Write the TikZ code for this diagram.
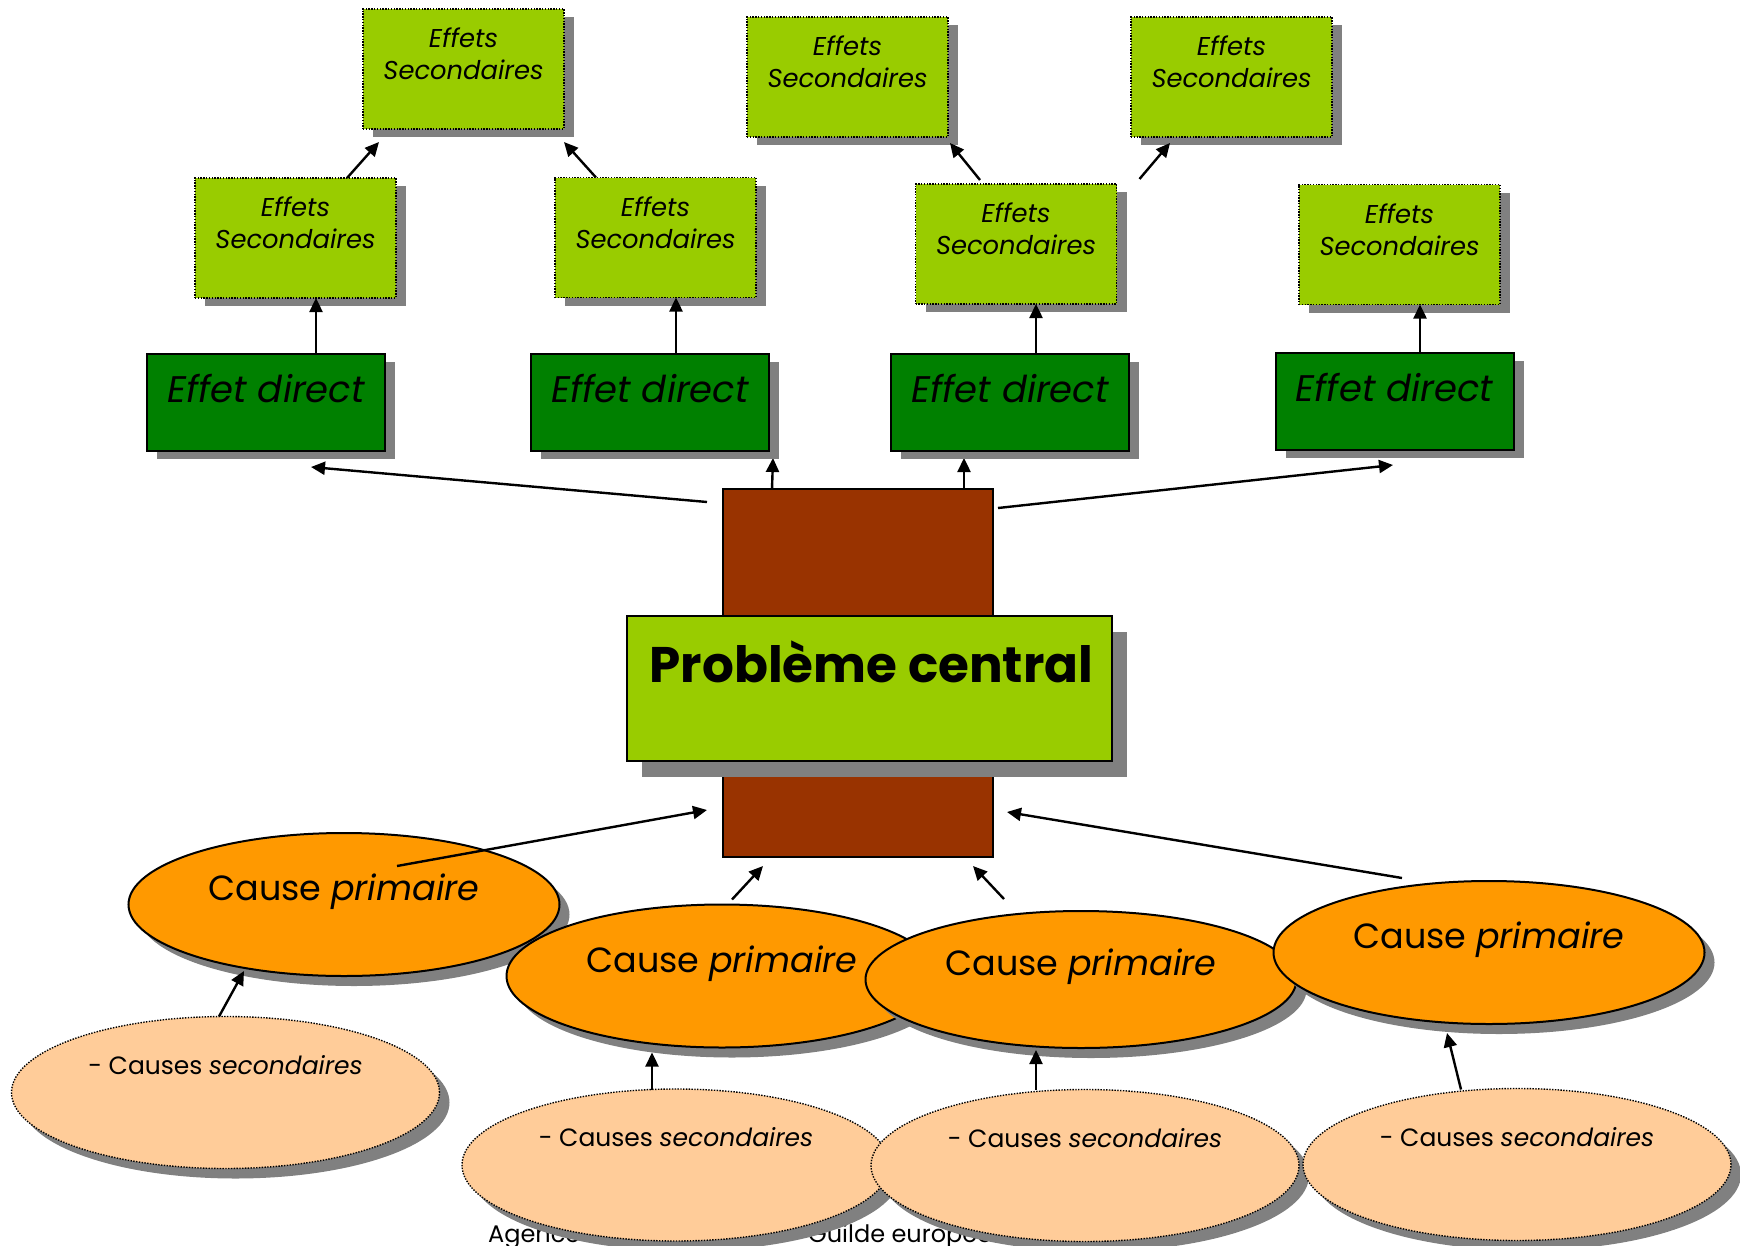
\documentclass[tikz,border=0pt]{standalone}
\usepackage{fontspec}
\setmainfont{Poppins}
\usetikzlibrary{arrows.meta,shadows,calc,shapes.geometric}
\definecolor{leaf}{HTML}{99CC00}
\definecolor{forest}{HTML}{008000}
\definecolor{rust}{HTML}{993300}
\definecolor{amber}{HTML}{FF9900}
\definecolor{peach}{HTML}{FFCC99}
\definecolor{shade}{HTML}{808080}
\pgfdeclarelayer{under}
\pgfsetlayers{under,main}

\tikzset{
  dropA/.style={drop shadow={shadow xshift=10pt,shadow yshift=-8pt,fill=shade,opacity=1}},
  dropB/.style={drop shadow={shadow xshift=15pt,shadow yshift=-16pt,fill=shade,opacity=1}},
  dropC/.style={drop shadow={shadow xshift=10pt,shadow yshift=-10pt,fill=shade,opacity=1}},
  dots/.style={line width=1.4pt,dash pattern=on 1.4pt off 1.4pt},
  esbox/.style={rectangle,fill=leaf,draw=black,dots,minimum width=201pt,minimum height=120pt,inner sep=0pt,outer sep=0pt,dropA},
  edbox/.style={rectangle,fill=forest,draw=black,line width=2pt,minimum width=238pt,minimum height=97pt,inner sep=0pt,outer sep=0pt,dropA},
  corebox/.style={rectangle,fill=rust,draw=black,line width=2pt,minimum width=270pt,minimum height=368pt,inner sep=0pt,outer sep=0pt},
  pbbox/.style={rectangle,fill=leaf,draw=black,line width=2pt,minimum width=485pt,minimum height=145pt,inner sep=0pt,outer sep=0pt,dropB},
  pell/.style={ellipse,fill=amber,draw=black,line width=2pt,minimum width=431pt,minimum height=143pt,inner sep=0pt,outer sep=0pt,dropC},
  sell/.style={ellipse,fill=peach,draw=black,dots,minimum width=428pt,minimum height=152pt,inner sep=0pt,outer sep=0pt,dropC},
  estext/.style={anchor=base,inner sep=0pt,font=\fontsize{25.8}{30}\selectfont\itshape},
  edtext/.style={anchor=base,inner sep=0pt,font=\fontsize{37}{40}\selectfont\itshape},
  pbtext/.style={anchor=base,inner sep=0pt,font=\fontsize{50}{54}\selectfont\bfseries},
  ptext/.style={anchor=base,inner sep=0pt,font=\fontsize{35}{40}\selectfont},
  stext/.style={anchor=base,inner sep=0pt,font=\fontsize{25}{30}\selectfont},
  foot/.style={anchor=base west,inner sep=0pt,font=\fontsize{24}{28}\selectfont},
  arr/.style={line width=2.4pt,-{Triangle[length=14pt,width=13pt]}},
}

% a dotted box holding the two-line label
\newcommand\effbox[2]{%
  \node[esbox] (#1) at (#2) {};
  \node[estext] (#1a) at ([yshift=21.5pt]#1.center) {Effets};
  \node[estext] (#1b) at ([yshift=-10.5pt]#1.center) {Secondaires};}

\begin{document}
\begin{tikzpicture}[x=1pt,y=-1pt]
\useasboundingbox (0,0) rectangle (1740,1245);

% footer line, mostly hidden by the lower ellipses
\node[foot] (fa) at (488,1242) {Agence};
\node[foot] (fb) at (808,1242) {Guilde européenne};

% secondary effects
\effbox{t1}{463.5,69}
\effbox{t2}{847.5,77}
\effbox{t3}{1231.5,77}
\effbox{s1}{295.5,238}
\effbox{s2}{655.5,237.5}
\effbox{s3}{1016,244}
\effbox{s4}{1399.5,244.5}

% direct effects
\node[edbox] (d1) at (266,402.5) {};
\node[edbox] (d2) at (650,402.5) {};
\node[edbox] (d3) at (1010,402.5) {};
\node[edbox] (d4) at (1394.5,401.5) {};
\node[edtext] (d1t) at (d1.center) {Effet direct};
\node[edtext] (d2t) at (d2.center) {Effet direct};
\node[edtext] (d3t) at (d3.center) {Effet direct};
\node[edtext] (d4t) at (d4.center) {Effet direct};

% trunk and central problem
\node[corebox] (core) at (858,673) {};
\node[pbbox] (pb) at (869.5,688.5) {};
\node[pbtext] (pbt) at ([xshift=2pt,yshift=6.5pt]pb.center) {Problème central};

% primary causes
\node[pell] (p1) at (344,904.5) {};
\node[pell] (p2) at (722,976) {};
\node[pell,minimum height=137pt] (p3) at (1081,979.5) {};
\node[pell] (p4) at (1489,952.5) {};
\node[ptext] (p1t) at ([yshift=4pt]p1.center) {Cause \textit{primaire}};
\node[ptext] (p2t) at ([yshift=4pt]p2.center) {Cause \textit{primaire}};
\node[ptext] (p3t) at ([yshift=4pt]p3.center) {Cause \textit{primaire}};
\node[ptext] (p4t) at ([yshift=4pt]p4.center) {Cause \textit{primaire}};

% secondary causes
\node[sell] (c1) at (225.5,1092.5) {};
\node[sell] (c2) at (676,1165) {};
\node[sell] (c3) at (1085,1165.5) {};
\node[sell] (c4) at (1517,1164.5) {};
\node[stext] (c1t) at ([yshift=18.5pt]c1.center) {- Causes \textit{secondaires}};
\node[stext] (c2t) at ([yshift=18.5pt]c2.center) {- Causes \textit{secondaires}};
\node[stext] (c3t) at ([yshift=18.5pt]c3.center) {- Causes \textit{secondaires}};
\node[stext] (c4t) at ([yshift=18.5pt]c4.center) {- Causes \textit{secondaires}};

% direct effects -> secondary effects
\draw[arr] ($(d1.north)+(50,0)$) -- ($(s1.south)+(20.5,0)$);
\draw[arr] ($(d2.north)+(26,0)$) -- ($(s2.south)+(20.5,0)$);
\draw[arr] ($(d3.north)+(26,0)$) -- ($(s3.south)+(20,0)$);
\draw[arr] ($(d4.north)+(25.5,0)$) -- ($(s4.south)+(20.5,0)$);

% secondary effects -> further effects
\draw[arr] ($(s1.north)+(51.5,0)$) -- ($(t1.south west)+(16,13)$);
\draw[arr] ($(s2.north)+(-59.5,0)$) -- ($(t1.south east)+(0,13)$);
\draw[arr] ($(s3.north)+(-36,-4)$) -- ($(t2.south east)+(2,6)$);
\draw[arr] ($(s3.north east)+(23,-5)$) -- ($(t3.south west)+(39,6)$);

% central problem -> direct effects
\draw[arr] ($(core.north west)+(-16,13)$) -- ($(d1.south)+(45,16)$);
\begin{pgfonlayer}{under}
\draw[arr] ($(core.north)+(-86,0)$) -- ($(d2.south east)+(4,7)$);
\draw[arr] ($(core.north)+(106,0)$) -- ($(d3.south west)+(73,7)$);
\end{pgfonlayer}
\draw[arr] ($(core.north east)+(5,19)$) -- ($(d4.south)+(-1.5,15)$);

% primary causes -> central problem
\draw[arr] ($(p1.center)+(53,-38.5)$) -- ($(core.west)+(-16,137)$);
\draw[arr] ($(p2.north)+(10,-5)$) -- ($(core.south west)+(40,9)$);
\draw[arr] ($(p3.north)+(-77,-12)$) -- ($(core.south east)+(-20,9)$);
\draw[arr] ($(p4.north)+(-87,-3)$) -- ($(core.east)+(14,139)$);

% secondary causes -> primary causes
\draw[arr] ($(c1.north)+(-6.5,0)$) -- ($(p1.south)+(-100,-5)$);
\draw[arr] ($(c2.north)+(-24,1)$) -- ($(p2.south)+(-70,5)$);
\draw[arr] ($(c3.north)+(-49,0)$) -- ($(p3.south)+(-45,2)$);
\draw[arr] ($(c4.north)+(-56,1)$) -- ($(p4.south)+(-42,9)$);
\end{tikzpicture}
\end{document}
